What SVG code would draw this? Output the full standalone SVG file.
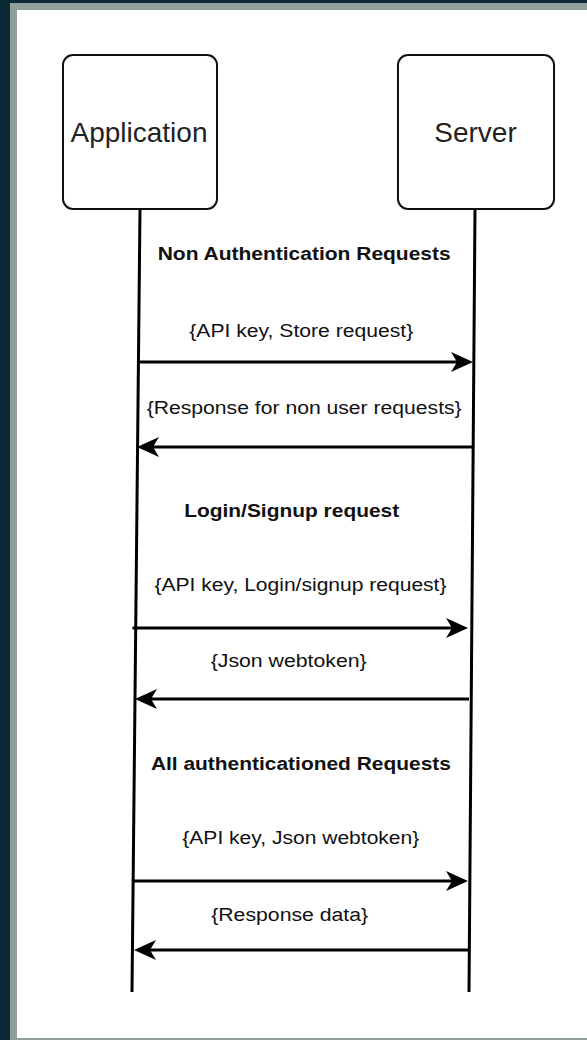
<svg xmlns="http://www.w3.org/2000/svg" width="587" height="1040" viewBox="0 0 587 1040">
<style>
.box{fill:#fff;stroke:#111;stroke-width:2}
.title{font-family:"Liberation Sans",Arial,sans-serif;font-size:28px;fill:#222;text-anchor:middle}
.lbl{font-family:"Liberation Sans",Arial,sans-serif;font-size:18px;fill:#111;text-anchor:middle}
.b{font-weight:bold}
.life{stroke:#000;stroke-width:3;fill:none}
.msg{stroke:#000;stroke-width:3;fill:none;marker-end:url(#ah)}
</style>
<defs>
<marker id="ah" markerUnits="userSpaceOnUse" markerWidth="22" markerHeight="20" refX="6" refY="10" orient="auto" overflow="visible">
<path d="M0,0 L22,10 L0,20 L6,10 Z" fill="#000"/>
</marker>
</defs>
<rect x="0" y="0" width="587" height="1040" fill="#0b2a35"/>
<rect x="10" y="3" width="577" height="1037" fill="#909f9c"/>
<rect x="17" y="10" width="570" height="1028" fill="#fff"/>
<g id="lifelines">
<line class="life" x1="140" y1="209" x2="132" y2="992"/>
<line class="life" x1="475" y1="209" x2="469" y2="992"/>
</g>
<g id="app">
<rect class="box" x="63" y="55" width="154" height="154" rx="10"/>
<text class="title" x="139" y="142">Application</text>
</g>
<g id="server">
<rect class="box" x="398" y="55" width="156" height="154" rx="10"/>
<text class="title" x="475.5" y="142">Server</text>
</g>
<g id="connectors">
<line class="msg" x1="139" y1="362" x2="457" y2="362"/>
<line class="msg" x1="472" y1="447" x2="153" y2="447"/>
<line class="msg" x1="132.5" y1="628" x2="452" y2="628"/>
<line class="msg" x1="469" y1="699" x2="151" y2="699"/>
<line class="msg" x1="133" y1="881" x2="452" y2="881"/>
<line class="msg" x1="469" y1="950" x2="150" y2="950"/>
</g>
<g id="labels">
<text class="lbl b" x="304.2" y="259.5" textLength="293" lengthAdjust="spacingAndGlyphs">Non Authentication Requests</text>
<text class="lbl" x="301.3" y="337" textLength="224" lengthAdjust="spacingAndGlyphs">{API key, Store request}</text>
<text class="lbl" x="304.2" y="413.5" textLength="315" lengthAdjust="spacingAndGlyphs">{Response for non user requests}</text>
<text class="lbl b" x="291.7" y="516.5" textLength="215" lengthAdjust="spacingAndGlyphs">Login/Signup request</text>
<text class="lbl" x="300.5" y="590.5" textLength="292" lengthAdjust="spacingAndGlyphs">{API key, Login/signup request}</text>
<text class="lbl" x="288.7" y="666.5" textLength="156" lengthAdjust="spacingAndGlyphs">{Json webtoken}</text>
<text class="lbl b" x="300.9" y="769.5" textLength="300" lengthAdjust="spacingAndGlyphs">All authenticationed Requests</text>
<text class="lbl" x="300.8" y="843.5" textLength="237" lengthAdjust="spacingAndGlyphs">{API key, Json webtoken}</text>
<text class="lbl" x="289.7" y="920.5" textLength="157" lengthAdjust="spacingAndGlyphs">{Response data}</text>
</g>
</svg>
